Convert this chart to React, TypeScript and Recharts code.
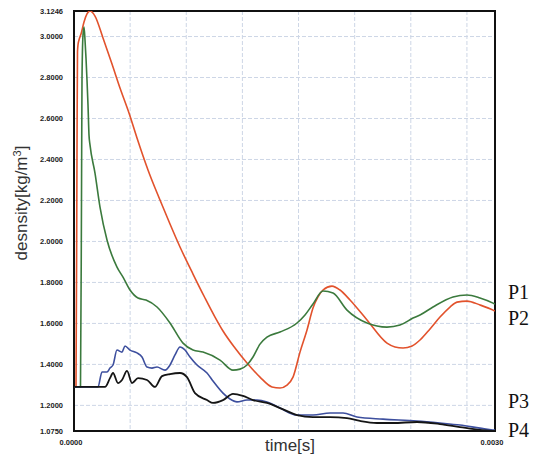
import React from 'react';
import { LineChart, Line, XAxis, YAxis, CartesianGrid, ReferenceArea } from 'recharts';

// P1 – density history (time in s, density in kg/m^3)
const p1Time = [0, 0.0000463, 0.0000534, 0.000057, 0.0000641, 0.0000713, 0.0000784, 0.0000855, 0.0000926, 0.0000998, 0.0001069, 0.000114, 0.0001496, 0.0001853, 0.0002352, 0.0003064, 0.0003492, 0.0003991, 0.0004561, 0.0005131, 0.0005915, 0.0006841, 0.0007767, 0.000848, 0.0009193, 0.0010404, 0.001133, 0.0011829, 0.0012328, 0.0012756, 0.0013254, 0.0013753, 0.001468, 0.0015891, 0.0016462, 0.0017031, 0.0017744, 0.0018456, 0.0019454, 0.0020879, 0.0022304, 0.0023231, 0.0024157, 0.0024656, 0.0025582, 0.0027008, 0.0028005, 0.0028932, 0.0029857, 0.003];
const p1Density = [1.29, 1.29, 2.202, 2.788, 3.007, 3.046, 2.983, 2.895, 2.788, 2.666, 2.519, 2.471, 2.334, 2.168, 2.007, 1.875, 1.826, 1.763, 1.724, 1.714, 1.68, 1.602, 1.504, 1.47, 1.46, 1.421, 1.372, 1.377, 1.397, 1.436, 1.499, 1.533, 1.558, 1.602, 1.641, 1.695, 1.758, 1.748, 1.665, 1.602, 1.582, 1.592, 1.626, 1.641, 1.68, 1.729, 1.739, 1.724, 1.699, 1.694];

// P2
const p2Time = [0, 0.0000143, 0.0000214, 0.0000249, 0.0000285, 0.0000356, 0.0000499, 0.0000713, 0.0000926, 0.000114, 0.0001496, 0.0002067, 0.0002708, 0.0003278, 0.0003919, 0.0004489, 0.0005273, 0.0006128, 0.0006841, 0.0007554, 0.000848, 0.0009335, 0.0010048, 0.0010618, 0.0011472, 0.0012328, 0.0013254, 0.0014109, 0.001468, 0.0015178, 0.0015606, 0.0016105, 0.0016604, 0.0017031, 0.0017387, 0.0017744, 0.0018385, 0.0018955, 0.0019668, 0.0020879, 0.0022304, 0.0022874, 0.0023445, 0.0024086, 0.0024656, 0.0025369, 0.0026081, 0.0026794, 0.0027293, 0.0028005, 0.0028932, 0.0029857, 0.003];
const p2Density = [1.29, 1.29, 2.446, 2.925, 2.959, 2.983, 3.012, 3.071, 3.11, 3.1246, 3.1, 2.993, 2.866, 2.749, 2.627, 2.505, 2.349, 2.202, 2.085, 1.973, 1.841, 1.724, 1.631, 1.563, 1.48, 1.407, 1.338, 1.29, 1.285, 1.299, 1.338, 1.46, 1.568, 1.675, 1.729, 1.763, 1.782, 1.763, 1.714, 1.617, 1.504, 1.485, 1.48, 1.49, 1.519, 1.573, 1.631, 1.68, 1.704, 1.709, 1.69, 1.665, 1.66];

// P3
const p3Time = [0, 0.000171, 0.0001995, 0.0002352, 0.0002565, 0.0002779, 0.0003064, 0.000342, 0.0003634, 0.0003991, 0.0004489, 0.0004846, 0.0005202, 0.0005558, 0.0005915, 0.0006485, 0.0006841, 0.0007197, 0.0007554, 0.000791, 0.0008266, 0.0008765, 0.0009478, 0.0009905, 0.0010618, 0.0011117, 0.0011615, 0.0012328, 0.0013041, 0.0013753, 0.001468, 0.0015891, 0.0017031, 0.0018243, 0.0019169, 0.0020167, 0.0022019, 0.0024442, 0.0026081, 0.0027506, 0.0028932, 0.0029857, 0.003];
const p3Density = [1.29, 1.29, 1.363, 1.363, 1.382, 1.397, 1.47, 1.46, 1.49, 1.47, 1.456, 1.436, 1.387, 1.382, 1.387, 1.372, 1.397, 1.446, 1.485, 1.47, 1.436, 1.397, 1.358, 1.319, 1.26, 1.231, 1.217, 1.226, 1.226, 1.217, 1.187, 1.153, 1.153, 1.163, 1.163, 1.143, 1.133, 1.124, 1.114, 1.104, 1.089, 1.08, 1.08];

// P4
const p4Time = [0, 0.0002209, 0.0002565, 0.0002779, 0.0003135, 0.000342, 0.0003777, 0.0004133, 0.0004561, 0.0005202, 0.0005772, 0.0006271, 0.0006841, 0.0007554, 0.0008053, 0.0008622, 0.0009478, 0.0009905, 0.0010618, 0.001133, 0.0012043, 0.0012756, 0.0013753, 0.001468, 0.0015891, 0.0017031, 0.0018243, 0.0019454, 0.002038, 0.0021592, 0.0022732, 0.0024442, 0.0026081, 0.0027506, 0.0028932, 0.0029857, 0.003];
const p4Density = [1.29, 1.29, 1.333, 1.358, 1.309, 1.324, 1.368, 1.309, 1.333, 1.324, 1.29, 1.343, 1.353, 1.358, 1.338, 1.26, 1.226, 1.212, 1.226, 1.256, 1.246, 1.226, 1.212, 1.187, 1.153, 1.143, 1.143, 1.138, 1.124, 1.114, 1.114, 1.119, 1.109, 1.094, 1.08, 1.075, 1.075];

const yTicks = [1.075, 1.2, 1.4, 1.6, 1.8, 2.0, 2.2, 2.4, 2.6, 2.8, 3.0, 3.1246];
const yGrid = [1.2, 1.4, 1.6, 1.8, 2.0, 2.2, 2.4, 2.6, 2.8, 3.0];
const xTicks = [0, 0.003];
const xGrid = [0.0002, 0.0004, 0.0006, 0.0008, 0.001, 0.0012, 0.0014, 0.0016, 0.0018, 0.002, 0.0022, 0.0024, 0.0026, 0.0028];
const seriesNames = ['P1', 'P2', 'P3', 'P4'];

const zip = (t: number[], d: number[]) => t.map((x, i) => ({ t: x, d: d[i] }));
const p1 = zip(p1Time, p1Density);
const p2 = zip(p2Time, p2Density);
const p3 = zip(p3Time, p3Density);
const p4 = zip(p4Time, p4Density);

const YTick = (props: any) => {
  const { y, payload } = props;
  return (
    <text x={63} y={y} textAnchor="end" dominantBaseline="central"
      fontFamily="Liberation Sans, Arial, sans-serif" fontWeight="bold" fontSize={7.5} fill="#222">
      {Number(payload.value).toFixed(4)}
    </text>
  );
};

const XTick = (props: any) => {
  const { x, payload } = props;
  return (
    <text x={x - 3} y={442} textAnchor="middle" dominantBaseline="central"
      fontFamily="Liberation Sans, Arial, sans-serif" fontWeight="bold" fontSize={7.5} fill="#222">
      {Number(payload.value).toFixed(4)}
    </text>
  );
};

const labelYs = [299, 325, 408, 437];

export default function App() {
  return (
    <div style={{ position: 'absolute', left: 0, top: 0, width: 547, height: 461, background: '#fff' }}>
      <LineChart width={547} height={461} margin={{ top: 11, right: 52, bottom: 0, left: 0 }}>
        <CartesianGrid stroke="#cdd6e6" strokeDasharray="4 2" horizontalValues={yGrid} verticalValues={xGrid} />
        <XAxis type="number" dataKey="t" domain={[0, 0.003]} ticks={xTicks} height={30}
          axisLine={false} tickLine={false} tick={<XTick />} allowDataOverflow />
        <YAxis type="number" dataKey="d" domain={[1.075, 3.1246]} ticks={yTicks} width={74}
          axisLine={false} tickLine={false} tick={<YTick />} allowDataOverflow />
        <Line data={p2} dataKey="d" type="monotone" stroke="#e2522c" strokeWidth={1.6} dot={false} isAnimationActive={false} />
        <Line data={p1} dataKey="d" type="monotone" stroke="#3b7a3d" strokeWidth={1.6} dot={false} isAnimationActive={false} />
        <Line data={p3} dataKey="d" type="monotone" stroke="#3d4f9e" strokeWidth={1.6} dot={false} isAnimationActive={false} />
        <Line data={p4} dataKey="d" type="monotone" stroke="#151515" strokeWidth={1.8} dot={false} isAnimationActive={false} />
        <ReferenceArea x1={0} x2={0.003} y1={1.075} y2={3.1246} fill="none" fillOpacity={0} stroke="#111" strokeWidth={2} ifOverflow="visible" />
      </LineChart>
      <svg width={547} height={461} style={{ position: 'absolute', left: 0, top: 0, pointerEvents: 'none' }}>
        <text transform="translate(27,203) rotate(-90)" textAnchor="middle"
          fontFamily="Liberation Sans, Arial, sans-serif" fontSize={17} fill="#333">
          desnsity[kg/m<tspan dy={-6} fontSize={11}>3</tspan><tspan dy={6}>]</tspan>
        </text>
        <text x={290} y={451} textAnchor="middle" fontFamily="Liberation Sans, Arial, sans-serif" fontSize={17} fill="#333">
          time[s]
        </text>
        {seriesNames.map((n, i) => (
          <text key={n} x={508} y={labelYs[i]} fontFamily="Liberation Serif, Times New Roman, serif" fontSize={20} fill="#111">
            {n}
          </text>
        ))}
      </svg>
    </div>
  );
}
